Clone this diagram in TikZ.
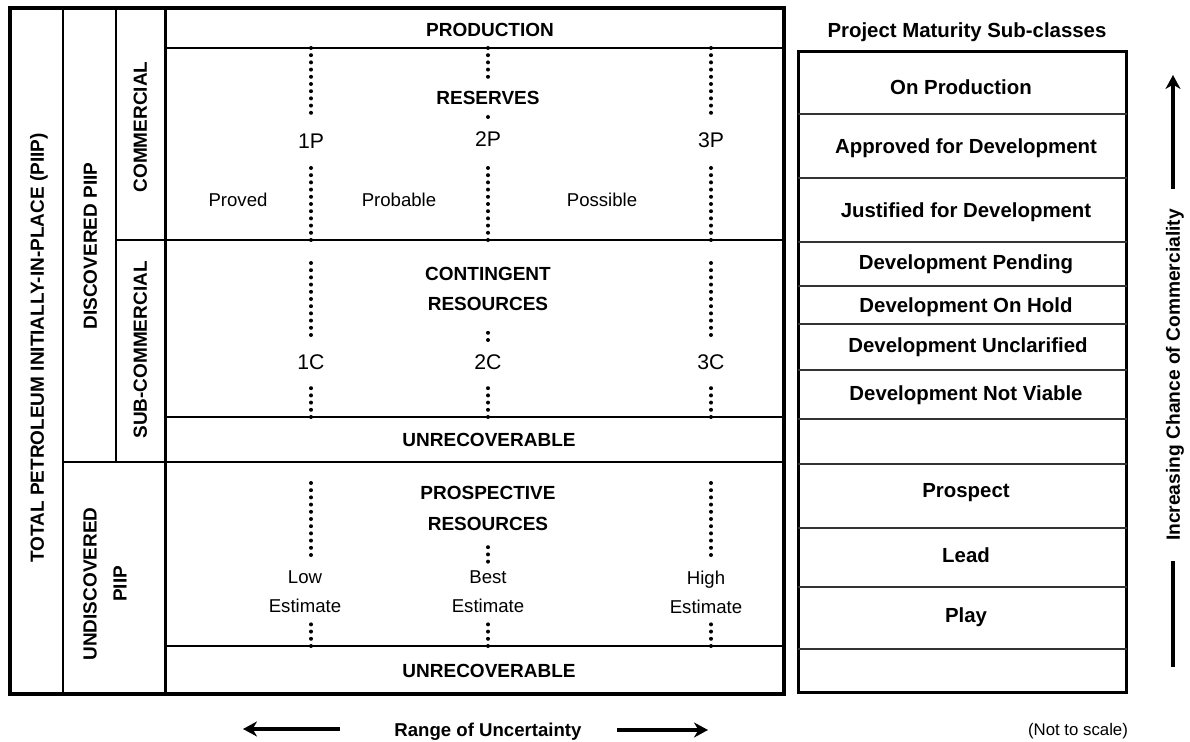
\documentclass[tikz,border=0pt]{standalone}
\usepackage{fontspec}
\setmainfont{Liberation Sans}
\usetikzlibrary{arrows.meta}
\begin{document}
\begin{tikzpicture}[x=0.5pt,y=-0.5pt,
  outer/.style={line width=2pt},
  midline/.style={line width=1.5pt},
  colline/.style={line width=1pt},
  rowline/.style={line width=1pt},
  clsline/.style={line width=0.9pt, black!80},
  dotline/.style={line width=2pt, line cap=round, dash pattern=on 0pt off 3.6pt},
  capb/.style={font=\fontsize{9.5pt}{15pt}\selectfont\bfseries, inner sep=0pt},
  capc/.style={capb, text height=6.8pt, text depth=0pt},
  lvl/.style={font=\fontsize{10.6pt}{13pt}\selectfont, inner xsep=0pt, inner ysep=7pt, text height=7.6pt, text depth=0pt},
  reg/.style={font=\fontsize{9.3pt}{14.5pt}\selectfont, inner sep=0pt},
  regc/.style={reg, text height=6.66pt, text depth=0pt},
  cls/.style={font=\fontsize{10.2pt}{12pt}\selectfont\bfseries, inner sep=0pt, text height=7.3pt, text depth=0pt},
  arr/.style={line width=1.6pt, -{Stealth[length=7pt,width=7.5pt,inset=2.2pt]}}
]
\useasboundingbox (0,0) rectangle (1190,742);

% ---------- left frame ----------
\draw[outer] (10,8) rectangle (784,694);
\draw[colline] (63,8) -- (63,694);
\draw[colline] (116,8) -- (116,462);
\draw[midline] (165,8) -- (165,694);
\draw[rowline] (165,48) -- (784,48);
\draw[rowline] (116,240) -- (784,240);
\draw[rowline] (165,417) -- (784,417);
\draw[rowline] (63,462) -- (784,462);
\draw[rowline] (165,646) -- (784,646);

% rotated category labels
\node[capc, rotate=90] (piip) at (37,348) {TOTAL PETROLEUM INITIALLY-IN-PLACE (PIIP)};
\node[capc, rotate=90] (disc) at (90,246) {DISCOVERED PIIP};
\node[capc, rotate=90] (comm) at (140,127) {COMMERCIAL};
\node[capc, rotate=90] (subc) at (140,350) {SUB-COMMERCIAL};
\node[capb, rotate=90, align=center] (undisc) at (105,584) {UNDISCOVERED\\PIIP};

% ---------- reserves ----------
\node[capc] (prod) at (490,30) {PRODUCTION};
\node[capc, inner ysep=4.6pt] (res) at (488,98) {RESERVES};
\node[lvl] (l1P) at (311,141) {1P};
\node[lvl] (l2P) at (488,139) {2P};
\node[lvl] (l3P) at (711,140) {3P};
\node[regc] (prov) at (238,200) {Proved};
\node[regc] (prob) at (399,200) {Probable};
\node[regc] (poss) at (602,200) {Possible};

\coordinate (t1) at (311,48);  \coordinate (b1) at (311,240);
\coordinate (t2) at (488,48);  \coordinate (b2) at (488,240);
\coordinate (t3) at (711,48);  \coordinate (b3) at (711,240);
\draw[dotline] (t1) -- (l1P.north);
\draw[dotline] (b1) -- (l1P.south);
\draw[dotline] (t2) -- (res.north);
\draw[dotline] (l2P.north) -- (res.south);
\draw[dotline] (b2) -- (l2P.south);
\draw[dotline] (t3) -- (l3P.north);
\draw[dotline] (b3) -- (l3P.south);

% ---------- contingent ----------
\node[capb, align=center, inner ysep=8.6pt] (cont) at (488,289) {CONTINGENT\\RESOURCES};
\node[lvl] (l1C) at (311,362) {1C};
\node[lvl] (l2C) at (488,362) {2C};
\node[lvl] (l3C) at (711,362) {3C};
\node[capc] (unr1) at (489,440) {UNRECOVERABLE};

\coordinate (c1t) at (311,263); \coordinate (c1b) at (311,417);
\coordinate (c2b) at (488,417);
\coordinate (c3t) at (711,263); \coordinate (c3b) at (711,417);
\draw[dotline] (c1t) -- (l1C.north);
\draw[dotline] (c1b) -- (l1C.south);
\draw[dotline] (l2C.north) -- (cont.south);
\draw[dotline] (c2b) -- (l2C.south);
\draw[dotline] (c3t) -- (l3C.north);
\draw[dotline] (c3b) -- (l3C.south);

% ---------- prospective ----------
\node[capb, font=\fontsize{9.5pt}{15.5pt}\selectfont\bfseries, align=center, inner ysep=6.1pt] (pros) at (488,508.5) {PROSPECTIVE\\RESOURCES};
\node[reg, align=center, inner ysep=4.5pt] (low) at (305,591.5) {Low\\Estimate};
\node[reg, align=center, inner ysep=4.5pt] (best) at (488,592) {Best\\Estimate};
\node[reg, align=center, inner ysep=4.5pt] (high) at (706,592) {High\\Estimate};
\node[capc] (unr2) at (489,671) {UNRECOVERABLE};

\coordinate (p1t) at (311,483); \coordinate (p1b) at (311,646);
\coordinate (p2b) at (488,646);
\coordinate (p3t) at (711,483); \coordinate (p3b) at (711,646);
\draw[dotline] (p1t) -- (p1t |- low.north);
\draw[dotline] (p1b) -- (p1b |- low.south);
\draw[dotline] (best.north) -- (pros.south);
\draw[dotline] (p2b) -- (best.south);
\draw[dotline] (p3t) -- (p3t |- high.north);
\draw[dotline] (p3b) -- (p3b |- high.south);

% ---------- project maturity ----------
\node[cls] (title) at (967,30) {Project Maturity Sub-classes};
\draw[midline] (798,51.5) rectangle (1126.5,693);
\foreach \yy in {114,178,242,286,324,370,419,464,528,587,649}
  \draw[clsline] (798,\yy) -- (1126.5,\yy);
\node[cls] (onp) at (961,87.5) {On Production};
\node[cls] (apd) at (966,146) {Approved for Development};
\node[cls] (jfd) at (966,210) {Justified for Development};
\node[cls] (dpe) at (966,262) {Development Pending};
\node[cls] (doh) at (966,305) {Development On Hold};
\node[cls] (dun) at (968,345.5) {Development Unclarified};
\node[cls] (dnv) at (966,393.5) {Development Not Viable};
\node[cls] (psp) at (966,490.5) {Prospect};
\node[cls] (lead) at (966,555.5) {Lead};
\node[cls] (play) at (966,615) {Play};

% ---------- increasing chance arrow ----------
\node[font=\fontsize{9.6pt}{12pt}\selectfont\bfseries, rotate=90, inner xsep=10pt, inner ysep=0pt, text height=6.9pt, text depth=0pt] (inc) at (1173,375) {Increasing Chance of Commerciality};
\coordinate (incb) at (1173,667);
\coordinate (inct) at (1173,75);
\draw[line width=1.6pt] (incb) -- (inc);
\draw[arr] (inc) -- (inct);

% ---------- bottom ----------
\node[font=\fontsize{9.3pt}{12pt}\selectfont\bfseries, inner sep=0pt, text height=6.66pt, text depth=0pt] (rng) at (488,730) {Range of Uncertainty};
\coordinate (la1) at (340,729); \coordinate (la2) at (243,729);
\coordinate (ra1) at (617,730); \coordinate (ra2) at (708,730);
\draw[arr] (la1) -- (la2);
\draw[arr] (ra1) -- (ra2);
\node[font=\fontsize{8.4pt}{10pt}\selectfont, inner sep=0pt, text height=6pt, text depth=0pt] (nts) at (1078,730) {(Not to scale)};
\end{tikzpicture}
\end{document}
